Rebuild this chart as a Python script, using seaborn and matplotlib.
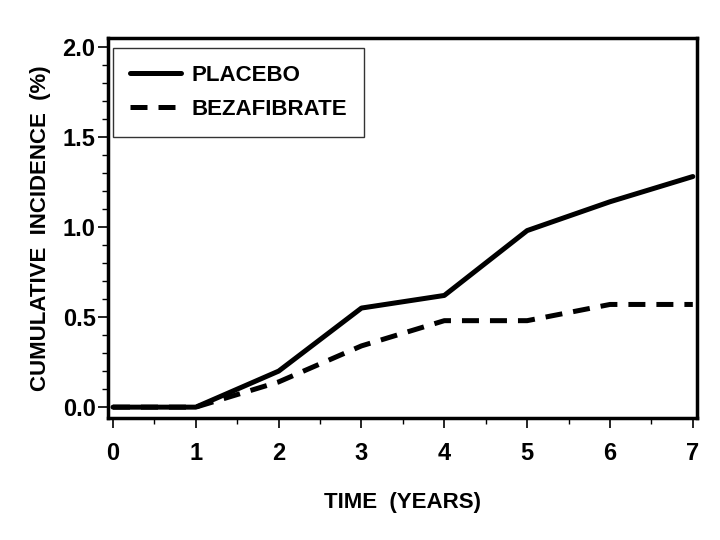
import pandas as pd
import matplotlib
matplotlib.use("Agg")
import matplotlib.pyplot as plt
from matplotlib.ticker import MultipleLocator, FormatStrFormatter
import seaborn as sns

years = [0, 1, 2, 3, 4, 5, 6, 7]
placebo = [0.0, 0.0, 0.20, 0.55, 0.62, 0.98, 1.14, 1.28]
bezafibrate = [0.0, 0.0, 0.14, 0.34, 0.48, 0.48, 0.57, 0.57]
groups = ["PLACEBO", "BEZAFIBRATE"]

df = pd.DataFrame({
    "year": years * 2,
    "incidence": placebo + bezafibrate,
    "group": [groups[0]] * len(years) + [groups[1]] * len(years),
})

sns.set_style("ticks")
plt.rcParams["font.family"] = ["Liberation Sans", "DejaVu Sans"]
plt.rcParams["font.weight"] = "bold"
plt.rcParams["text.color"] = "black"
plt.rcParams["axes.labelcolor"] = "black"

fig = plt.figure(figsize=(7.2, 5.4), dpi=100)
ax = fig.add_axes([0.15, 0.226, 0.818, 0.704])

sns.lineplot(data=df, x="year", y="incidence", style="group", color="black",
             dashes={"PLACEBO": "", "BEZAFIBRATE": (3.4, 2.2)},
             linewidth=3.6, ax=ax)

ax.set_xlim(-0.06, 7.05)
ax.set_ylim(-0.06, 2.05)
ax.xaxis.set_major_locator(MultipleLocator(1))
ax.xaxis.set_minor_locator(MultipleLocator(0.5))
ax.yaxis.set_major_locator(MultipleLocator(0.5))
ax.yaxis.set_minor_locator(MultipleLocator(0.1))
ax.yaxis.set_major_formatter(FormatStrFormatter("%.1f"))

ax.tick_params(axis="both", which="major", direction="out", length=7, width=1.2,
               labelsize=17, colors="black")
ax.tick_params(axis="x", which="major", pad=10)
ax.tick_params(axis="y", which="major", pad=2)
ax.tick_params(axis="both", which="minor", direction="out", length=4, width=1,
               colors="black")
for s in ax.spines.values():
    s.set_linewidth(2.5)
    s.set_color("black")

ax.set_xlabel("TIME  (YEARS)", fontsize=16, fontweight="bold", labelpad=20)
ax.set_ylabel("CUMULATIVE  INCIDENCE  (%)", fontsize=16, fontweight="bold", labelpad=8)

leg = ax.legend(loc="upper left", fontsize=16, handlelength=2.3, frameon=True,
                fancybox=False, edgecolor="black", borderpad=0.75,
                bbox_to_anchor=(-0.003, 0.99), labelspacing=0.6, handletextpad=0.5,
                borderaxespad=0.3)
leg.get_frame().set_linewidth(1.0)
for t in leg.get_texts():
    t.set_color("black")

fig.savefig("out.png", dpi=100)
